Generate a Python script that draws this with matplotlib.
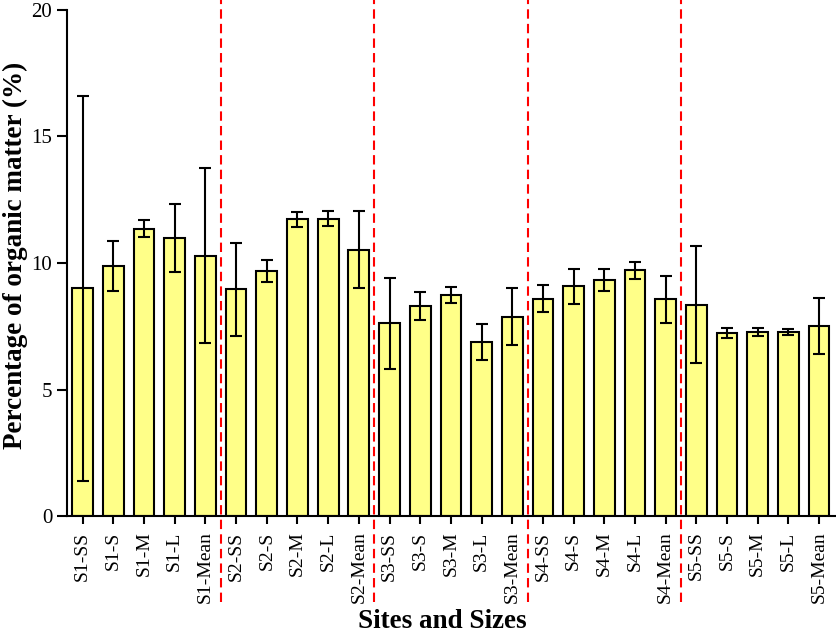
import matplotlib
matplotlib.use("Agg")
import matplotlib.pyplot as plt
import numpy as np

plt.rcParams['font.family'] = ['Liberation Serif', 'DejaVu Serif']

labels = ['S1-SS', 'S1-S', 'S1-M', 'S1-L', 'S1-Mean',
          'S2-SS', 'S2-S', 'S2-M', 'S2-L', 'S2-Mean',
          'S3-SS', 'S3-S', 'S3-M', 'S3-L', 'S3-Mean',
          'S4-SS', 'S4-S', 'S4-M', 'S4-L', 'S4-Mean',
          'S5-SS', 'S5-S', 'S5-M', 'S5-L', 'S5-Mean']
means = [8.99, 9.88, 11.35, 10.99, 10.29,
         8.96, 9.68, 11.72, 11.74, 10.52,
         7.62, 8.31, 8.72, 6.87, 7.88,
         8.59, 9.07, 9.32, 9.70, 8.56,
         8.35, 7.23, 7.28, 7.28, 7.52]
errs = [7.60, 0.97, 0.33, 1.33, 3.47,
        1.83, 0.44, 0.30, 0.30, 1.53,
        1.80, 0.56, 0.31, 0.72, 1.14,
        0.53, 0.69, 0.44, 0.33, 0.92,
        2.31, 0.21, 0.16, 0.11, 1.11]
group_breaks = [4.5, 9.5, 14.5, 19.5]

fig = plt.figure(figsize=(8.37, 6.35), dpi=100)
ax = fig.add_axes([0.0797, 0.187, 0.918, 0.798])

x = np.arange(len(labels))
ax.bar(x, means, width=0.675, color='#ffff88', edgecolor='black', linewidth=1.5,
       yerr=errs, error_kw=dict(ecolor='black', elinewidth=1.5, capsize=4, capthick=1.5),
       zorder=2)

# red dashed separators between the sites, running past the axis into the labels
for b in group_breaks:
    ax.axvline(b, ymin=-0.17, ymax=1.02, color='red', linestyle=(0, (4.5, 2.5)),
               linewidth=1.5, clip_on=False, zorder=3)

ax.set_xlim(-0.52, 24.52)
ax.set_ylim(0, 20)
ax.set_yticks([0, 5, 10, 15, 20])
ax.set_xticks(x)
ax.set_xticklabels(labels, rotation=90, fontsize=14)
ax.tick_params(axis='y', labelsize=15, length=7, width=1.5, direction='out')
ax.tick_params(axis='x', length=6, width=1.5, pad=5, direction='out')

for s in ['top', 'right']:
    ax.spines[s].set_visible(False)
for s in ['left', 'bottom']:
    ax.spines[s].set_linewidth(1.5)

ax.set_ylabel('Percentage of organic matter (%)', fontsize=19.5, fontweight='bold')
ax.yaxis.set_label_coords(-0.05, 0.515)
ax.set_xlabel('Sites and Sizes', fontsize=19.5, fontweight='bold')
ax.xaxis.set_label_coords(0.4885, -0.184)

fig.savefig('out.png', dpi=100)
